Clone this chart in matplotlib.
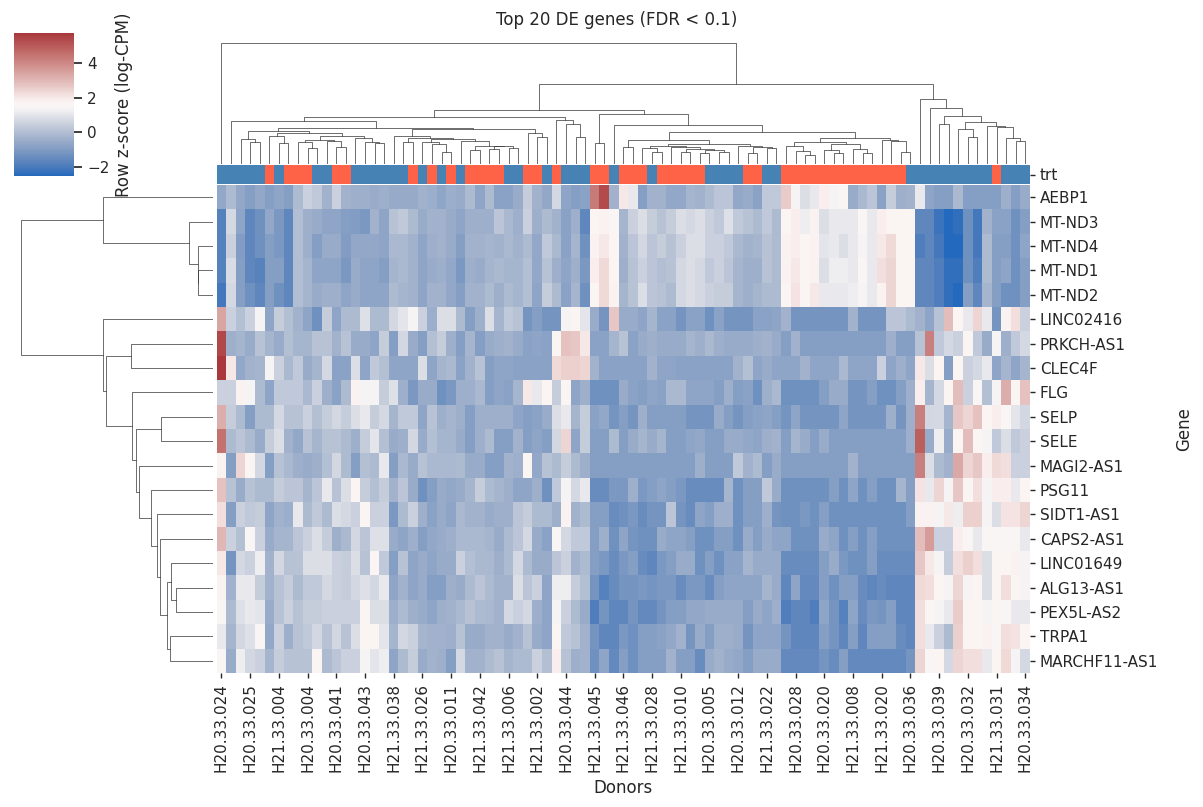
import numpy as np
import matplotlib
matplotlib.use("Agg")
import matplotlib.pyplot as plt
from matplotlib.colors import ListedColormap
import seaborn as sns

sns.set_theme(style="ticks")
plt.rcParams["font.family"] = ["DejaVu Sans"]

genes = ["AEBP1", "MT-ND3", "MT-ND4", "MT-ND1", "MT-ND2", "LINC02416",
         "PRKCH-AS1", "CLEC4F", "FLG", "SELP", "SELE", "MAGI2-AS1", "PSG11",
         "SIDT1-AS1", "CAPS2-AS1", "LINC01649", "ALG13-AS1", "PEX5L-AS2",
         "TRPA1", "MARCHF11-AS1"]

# only every third donor gets a label on the x axis
donor_labels = ["H20.33.024", "H20.33.025", "H21.33.004", "H20.33.004", "H20.33.041",
                "H20.33.043", "H21.33.038", "H21.33.026", "H20.33.011", "H21.33.042",
                "H21.33.006", "H21.33.002", "H20.33.044", "H21.33.045", "H21.33.046",
                "H21.33.028", "H21.33.010", "H20.33.005", "H20.33.012", "H21.33.022",
                "H20.33.028", "H20.33.020", "H21.33.008", "H21.33.020", "H20.33.036",
                "H20.33.039", "H20.33.032", "H21.33.031", "H20.33.034"]
label_step = 3

# treatment of each donor column (1 = treated, 0 = control)
trt = [0, 0, 0, 0, 0, 1, 0, 1, 1, 1,
       0, 0, 1, 1, 0, 0, 0, 0, 0, 0,
       1, 0, 1, 0, 1, 0, 1, 1, 1, 1,
       0, 0, 1, 1, 0, 1, 0, 0, 0, 1,
       1, 0, 1, 1, 1, 0, 1, 1, 1, 1,
       1, 0, 0, 0, 0, 1, 1, 0, 0, 1,
       1, 1, 1, 1, 1, 1, 1, 1, 1, 1,
       1, 1, 0, 0, 0, 0, 0, 0, 0, 0,
       0, 1, 0, 0, 0]
trt_colors = ["steelblue", "tomato"]

# row z-scores of log-CPM, one list per gene, donors in dendrogram order
aebp1 = [-0.6, -0.1, -0.6, -0.9, -0.6, -0.9, -0.7, -0.9, -0.1, 0.5,
         0.3, -0.3, 0.5, -0.3, -0.4, -0.4, -0.5, -0.4, -0.55, -0.55,
         -0.55, -0.3, -0.45, -0.65, -0.45, -0.5, -0.1, -0.7, -0.1, -0.8,
         -0.8, -0.5, 0.4, -0.3, -0.6, 0.7, -0.7, -0.9, -0.8, 4.3,
         5.3, -0.3, 2.0, 1.1, -0.9, -0.3, -0.3, -0.6, -0.6, -0.25,
         -0.3, -0.1, 0.2, 0.2, -0.6, -0.5, -0.8, 0.3, 0.3, 2.6,
         1.4, 0.85, 1.1, 1.9, 1.4, 1.6, -0.5, -0.15, 0.2, -0.8,
         0.4, -0.4, -0.3, 1.1, -0.7, -0.9, -0.9, -0.15, -0.9, -0.9,
         -0.9, -0.9, -0.4, -0.9, -0.5]
mt_nd3 = [-1.8, 0.7, -0.7, -1.6, -1.3, -0.6, -1.1, -1.6, 0.0, -0.4,
          -0.5, -0.7, -0.7, -0.9, -0.95, -1.1, -0.3, -0.7, 0.1, 0.3,
          -0.1, -0.5, -0.3, -0.3, -0.5, -0.7, -0.4, -0.4, -0.4, 0.2,
          -0.15, -0.4, 0.5, -0.4, -0.1, -0.3, -0.8, -0.4, -1.6, 1.7,
          1.8, 1.6, -0.25, 0.5, 0.85, 0.4, 0.1, 0.4, 0.85, 0.7,
          0.85, 0.5, 0.3, 0.9, 0.3, 0.1, -0.1, 0.3, -0.1, 1.7,
          1.9, 1.2, 1.8, 0.85, 1.1, 1.1, 1.1, 1.5, 1.1, 1.9,
          1.7, 1.7, 1.7, -1.6, -1.6, -2.2, -2.52, -2.35, -1.3, -2.1,
          -0.3, -0.8, -0.8, -1.3, -0.9]
mt_nd4 = [-1.8, 0.5, -0.95, -1.6, -1.3, -0.9, -1.1, -1.6, 0.0, -0.4,
          -0.9, -0.5, -0.5, -0.95, -0.6, -0.6, -0.6, -0.7, -0.15, -0.15,
          -0.3, -0.7, -0.4, -0.3, -0.5, -0.9, -0.3, -0.3, -0.25, -0.3,
          -0.15, -0.3, -0.1, -0.6, 0.3, -0.15, -0.8, -0.25, -1.3, 1.8,
          2.0, 1.7, -0.3, 0.2, 0.65, 0.2, 0.4, 0.1, 0.5, 0.85,
          0.85, 0.5, 0.5, 0.3, -0.15, -0.3, -0.25, 0.1, -0.1, 1.8,
          1.9, 1.7, 1.8, 1.0, 1.1, 0.85, 1.1, 1.4, 1.1, 2.0,
          2.3, 1.7, 1.7, -1.9, -1.6, -2.1, -2.5, -2.5, -1.3, -2.1,
          -0.1, -0.9, -0.9, -1.3, -0.7]
mt_nd1 = [-1.8, 0.8, -0.9, -1.6, -1.75, -0.9, -0.9, -1.6, 0.0, -0.25,
          -0.7, -0.7, -0.7, -1.1, -0.5, -0.7, -0.7, -0.9, -0.25, -0.15,
          -0.3, -0.7, -0.5, -0.4, -0.6, -1.1, -0.4, -0.5, -0.25, -0.15,
          -0.25, -0.25, 0.05, -0.6, 0.1, -0.4, -0.7, -0.4, -1.1, 1.9,
          2.3, 1.7, -0.4, 0.1, 0.5, 0.2, 0.0, 0.1, 0.7, 0.85,
          0.7, 0.3, 0.5, 0.2, -0.25, -0.4, -0.4, 0.1, -0.1, 1.8,
          2.0, 1.7, 1.8, 0.85, 1.2, 1.2, 1.1, 1.5, 1.1, 2.2,
          2.4, 1.7, 1.7, -1.6, -1.6, -1.9, -2.35, -2.35, -1.3, -1.9,
          -0.1, -0.9, -0.7, -1.3, -0.9]
mt_nd2 = [-2.1, 0.7, -0.9, -1.3, -1.6, -0.9, -1.3, -1.6, 0.0, -0.25,
          -0.5, -0.4, -0.4, -0.7, -0.5, -0.7, -0.7, -0.7, -0.1, -0.25,
          -0.3, -0.7, -0.3, -0.3, -0.6, -0.9, -0.3, -0.3, -0.1, -0.4,
          -0.1, -0.25, 0.05, -0.7, 0.4, -0.1, -0.8, -0.25, -1.3, 1.7,
          2.3, 1.8, -0.25, 0.1, 0.85, 0.2, 0.1, -0.1, 0.7, 0.85,
          0.7, 0.5, 0.4, 0.4, -0.25, -0.4, -0.25, -0.1, -0.1, 1.7,
          2.1, 1.7, 2.0, 1.1, 1.1, 1.1, 1.2, 1.4, 1.1, 1.8,
          2.4, 1.7, 1.7, -1.6, -1.6, -1.9, -2.35, -2.5, -0.9, -1.6,
          -0.25, -0.9, -1.3, -1.3, -0.9]
linc02416 = [3.4, 0.5, 0.05, 0.5, 1.4, -0.7, 0.4, 0.05, -0.3, -0.7,
             -1.3, 0.4, -0.7, -0.1, -0.1, 0.9, -0.1, -0.1, 0.65, 1.0,
             1.4, 0.5, -0.45, 0.85, 0.85, -0.1, -0.9, -0.4, 0.85, -0.25,
             0.3, 0.1, -1.2, -0.9, -1.2, -1.2, 1.4, 1.7, 1.0, -0.5,
             -1.2, 2.7, -0.5, -0.5, -0.7, -0.25, -0.8, -0.8, -1.2, -0.8,
             -0.8, -1.3, -0.8, -1.2, -1.2, -1.2, -0.8, -0.8, -0.7, -0.3,
             -1.2, -1.2, -1.2, -1.2, -1.2, -1.2, -0.3, -1.2, -1.2, -1.2,
             0.2, 0.2, -0.1, -0.3, -0.7, 0.1, 2.9, 1.7, 1.1, 2.4,
             1.1, -1.2, 1.8, 2.2, 0.5]
prkch_as1 = [5.4, -0.4, -0.25, -0.5, 0.1, -0.25, -0.5, 0.05, -0.25, -0.25,
             0.1, 0.1, -0.3, 0.1, -0.5, -0.5, -0.7, 0.4, -0.9, 0.65,
             -0.5, -0.9, 0.05, 0.4, -0.4, -0.9, -0.25, -0.9, -0.5, -0.4,
             -0.3, -0.5, -0.8, -0.7, -0.8, 1.7, 2.8, 2.7, 2.0, -0.8,
             -0.8, -0.25, 0.1, -0.8, -0.5, -0.4, -0.5, -0.5, -0.5, -0.25,
             -0.4, -0.15, -0.4, -0.5, -0.5, -0.5, -0.4, -0.3, -0.5, -0.9,
             -0.3, -0.9, -0.9, -0.9, -0.9, -0.9, -0.9, -0.9, -0.9, -0.9,
             -0.4, -0.9, -0.9, 0.1, 4.2, 0.3, 0.7, 0.5, 1.7, 0.3,
             -0.5, 1.4, -0.4, 0.3, 0.7]
clec4f = [5.74, 2.0, -0.6, -0.3, -0.25, 1.4, 0.5, -0.15, 0.3, -0.5,
          -0.25, 0.7, -0.8, -0.8, 0.85, -0.7, 0.3, 0.05, -0.7, -0.7,
          -0.7, 0.85, -0.7, -0.25, -0.15, -0.8, -0.3, 0.1, -0.9, -0.7,
          -0.7, -0.8, -0.8, -0.8, -0.8, 2.3, 2.5, 2.5, 2.4, -0.3,
          -0.8, -0.8, -0.8, -0.8, -0.8, -0.3, -0.7, -0.7, -0.8, -0.8,
          -0.8, -0.8, -0.8, -0.8, -0.3, 0.05, -0.7, -0.5, -0.7, -0.7,
          -0.7, -0.3, -0.7, -0.7, -0.7, -0.15, -0.7, -0.7, -0.7, 0.5,
          -0.7, -0.4, -0.7, 2.0, 0.85, 1.7, -0.9, 1.7, 0.5, 0.7,
          1.1, -0.7, -0.25, -0.7, -0.25]
flg = [0.5, 0.5, 1.8, 1.4, -0.1, -0.7, 0.3, 0.3, 0.3, -0.15,
       0.5, -0.4, -0.8, -0.1, 1.8, 1.4, 1.4, 0.4, 0.9, -0.4,
       -1.1, -0.5, -0.5, -1.3, -1.1, -0.4, -0.4, -0.15, -0.9, -0.7,
       -0.8, -0.25, 2.0, 1.1, 1.7, 0.4, 1.7, -0.7, -0.4, -1.3,
       -1.3, -1.3, -0.5, -0.8, -0.9, -0.7, -0.8, -0.15, -0.15, -0.7,
       -0.7, -0.7, -0.9, -0.4, -0.9, -0.8, -1.3, -0.4, -0.15, -1.3,
       -1.3, -1.3, -1.3, -0.9, -0.5, -0.5, -1.2, -1.2, -0.9, -1.3,
       -1.3, -0.9, -0.4, 1.9, -0.25, 0.7, 1.7, 2.9, 0.5, 1.5,
       0.05, 1.4, 3.2, 1.7, 2.8]
selp = [3.2, 0.4, -0.1, -0.9, -0.1, -0.1, 0.7, 0.1, 0.1, 0.5,
        0.05, 0.4, 0.65, 0.4, 0.85, 1.1, 0.4, 0.7, -0.25, 0.3,
        0.3, -0.7, 0.1, -0.4, -0.25, -0.4, -0.9, -0.4, -0.4, -0.4,
        -0.4, -0.7, -0.9, -0.8, -0.5, 0.85, 1.1, -0.25, 0.4, -0.8,
        -0.6, -1.2, -0.9, -1.2, -0.4, -0.9, -0.9, -0.9, -0.9, -1.2,
        -1.2, -1.2, -0.5, -0.9, -1.2, -0.9, -0.8, -0.7, -0.9, -1.2,
        -0.7, -1.2, -1.2, -1.2, -1.2, -0.7, -1.2, -1.2, -1.2, -1.2,
        -0.4, -1.2, -0.4, 4.2, 0.65, 0.7, -0.25, 2.7, 2.4, 2.8,
        1.7, 1.9, 1.6, 1.0, 0.65]
sele = [4.5, -0.1, 0.2, -0.1, -0.5, 0.4, 0.85, -0.3, -0.6, 0.1,
        -0.25, 0.1, 0.1, -0.1, -0.4, 0.4, 1.0, 0.05, -0.5, -0.4,
        0.65, -0.5, 0.05, -0.25, -0.25, -0.5, -0.9, -0.4, -0.1, -0.9,
        -0.9, -0.3, -0.9, -0.7, -0.9, 0.65, 2.4, -0.7, 0.4, -0.9,
        -0.9, -0.1, -0.9, -0.5, -0.25, -0.5, -0.25, -0.9, -0.9, -0.7,
        -0.6, -0.9, -0.9, -0.5, -0.5, -0.6, -0.7, -0.4, -0.3, -0.9,
        -0.25, -0.5, -0.9, -0.5, -0.9, -0.9, -0.9, -0.9, -0.9, -0.9,
        -0.9, -0.9, -0.4, 4.9, -0.5, 1.2, -0.5, 1.7, 2.9, 1.7,
        1.4, 0.3, 0.85, 0.3, 0.5]
magi2_as1 = [1.8, -0.9, 2.4, 1.7, 0.65, -0.9, 0.1, -0.15, -0.4, -0.5,
             -0.4, 0.05, 0.65, -0.1, -0.9, 0.05, -0.1, 1.1, -0.9, -0.15,
             -0.5, 0.1, -0.15, -0.15, -0.15, -0.1, -0.5, -0.5, -0.9, -0.9,
             -0.3, -0.4, 1.7, -0.6, 0.1, -0.1, 0.4, -0.1, -0.4, -0.9,
             -0.9, -0.9, -0.9, -0.9, -0.9, -0.9, -0.9, -0.9, -0.9, -0.9,
             -0.4, -0.9, -0.9, -0.9, 0.3, -0.3, -0.1, -0.9, -0.5, -0.9,
             -0.9, -0.9, -0.9, -0.9, -0.9, -0.9, -0.3, -0.9, -0.9, -0.9,
             -0.9, -0.9, -0.9, 4.2, 0.85, -0.1, -0.3, 3.3, 2.4, 2.7,
             1.9, 2.3, 2.2, 0.5, 0.5]
psg11 = [2.8, 0.1, -0.5, 0.1, -0.1, -0.1, 0.4, 0.2, 0.2, -0.25,
         0.2, 1.1, 0.1, 0.85, 1.7, 0.4, 0.05, 0.4, -0.3, 0.2,
         -0.5, -1.3, -0.9, -0.5, -0.6, -0.5, -0.25, 0.4, -0.1, -0.25,
         -0.4, -0.7, -0.7, -0.4, -1.3, 0.3, 1.4, 0.7, 1.1, -1.45,
         -1.45, -1.1, -1.1, -0.4, -1.1, -0.9, -0.7, -0.9, -1.1, -1.45,
         -1.45, -1.45, -1.45, -0.25, -1.3, -0.9, -0.9, 0.3, -0.5, -1.3,
         -1.3, -1.3, -1.3, -1.3, -0.9, -1.3, -0.7, -1.3, -0.9, -1.3,
         -1.3, -0.25, -0.9, 2.1, 1.1, 2.4, 1.4, 2.7, 1.7, 2.2,
         1.4, 1.9, 1.9, 1.1, 1.7]
sidt1_as1 = [2.2, -0.9, 0.5, 0.3, 0.4, -0.7, -0.3, -0.45, 1.1, -0.1,
             0.3, -0.1, 0.85, 0.7, 0.5, 1.7, 0.5, 0.5, -1.1, -0.1,
             0.5, -0.4, -0.8, -0.5, -0.7, -0.15, -0.3, -0.3, -0.5, -0.4,
             -0.4, 0.2, 0.4, -0.1, -0.1, -0.4, 1.8, -0.3, -0.1, -0.9,
             -0.9, -1.45, -1.3, -1.1, -1.45, -1.2, -1.2, 0.2, -1.2, -1.45,
             -0.7, -0.9, -0.4, -0.4, -1.3, -0.9, -0.9, -0.4, -1.2, -1.3,
             -1.3, -1.1, -1.3, -0.9, -1.3, -1.3, -1.3, -1.3, -1.3, -1.3,
             -1.3, -1.3, -0.9, 1.8, 1.8, 1.4, 2.0, 1.2, 2.5, 2.5,
             1.4, 0.85, 2.1, 2.1, 2.4]
caps2_as1 = [3.0, 0.5, 0.05, 1.6, 0.5, -0.5, -0.25, -0.25, 0.2, 0.5,
             0.85, 0.4, -0.4, -0.15, 0.65, 0.2, 0.9, 0.9, -0.5, -0.7,
             -0.4, -0.9, -0.6, -0.5, -0.4, -0.15, -0.15, -0.15, -0.25, -0.5,
             -0.1, 0.2, 0.7, -0.5, -0.8, 1.5, 0.7, 0.3, 0.3, -0.9,
             -0.4, -1.3, -0.7, -1.2, -1.3, -1.3, -0.5, -0.7, -0.7, -0.9,
             -1.3, -1.3, -0.9, -0.9, -1.3, -0.5, -0.9, -0.5, -0.7, -0.7,
             -1.3, -1.3, -1.3, -0.5, -0.7, -1.3, -0.9, -1.3, -0.9, -1.3,
             -1.3, -1.3, -1.3, 2.9, 3.6, 0.5, 0.5, 1.9, 1.6, 1.1,
             1.5, 1.5, 1.5, 1.5, 1.1]
linc01649 = [2.0, -1.2, 0.7, 0.5, 1.2, -0.3, 0.65, 0.1, 0.1, 0.85,
             0.85, 0.85, 0.5, 0.4, 0.85, 0.1, 1.7, 0.3, -0.9, 0.1,
             -0.7, -0.5, -0.7, -0.5, -0.5, 0.5, 0.05, -0.15, -0.15, -0.4,
             -0.1, 0.7, -0.1, -0.5, -0.5, 0.2, 0.5, -0.3, -0.1, -0.9,
             -1.1, -1.45, -1.1, -0.9, -1.45, -1.6, -1.1, -0.9, -0.5, -0.5,
             -1.3, -0.9, -1.3, -0.8, -0.8, -0.25, -0.5, -0.5, -0.5, -1.45,
             -1.45, -1.45, -1.45, -0.9, -0.5, -1.1, -1.3, -1.3, -0.9, -1.45,
             -1.45, -1.45, -1.45, 2.7, 2.0, 1.4, 0.4, 2.2, 2.5, 2.2,
             0.85, 1.7, 1.7, 1.8, 1.4]
alg13_as1 = [1.8, -0.3, 1.1, 1.1, 0.4, -0.3, 0.1, 0.4, -0.1, 0.3,
             0.3, 0.7, 0.5, 0.4, 0.65, 0.9, 0.65, 1.1, -0.7, -0.3,
             -0.7, -0.5, -0.9, -0.9, -0.4, -0.5, -0.1, 0.2, -0.1, -0.3,
             -0.3, 0.85, 0.2, 0.5, -0.7, 1.2, 1.2, 0.4, 0.05, -1.2,
             -1.8, -1.45, -1.2, -1.2, -1.1, -1.2, -1.1, -1.1, -1.45, -1.1,
             -1.1, -1.45, -0.9, -0.7, -0.7, -0.7, -0.7, -0.25, -0.5, -1.6,
             -0.7, -1.55, -1.55, -0.9, -1.3, -0.9, -0.9, -1.45, -1.6, -1.45,
             -1.6, -1.6, -1.6, 2.3, 2.2, 1.7, 1.4, 2.4, 1.4, 1.7,
             0.85, 1.7, 2.2, 1.7, 1.4]
pex5l_as2 = [1.6, -0.1, 0.9, 1.1, 1.0, -0.5, 0.1, 0.5, 0.1, 0.4,
             0.4, 0.5, 0.5, 0.5, 0.5, 1.7, 0.85, 0.85, -0.4, -0.1,
             -0.4, -0.5, -0.7, -0.4, -0.3, -0.15, 0.1, -0.1, -0.15, -0.3,
             0.7, 0.5, 0.7, -0.4, -0.7, 1.4, 0.5, -0.1, -0.5, -1.9,
             -1.2, -1.6, -1.6, -1.2, -1.55, -1.55, -1.2, -0.9, -0.9, -0.6,
             -0.6, -0.5, -0.5, -0.5, -0.5, -0.9, -0.5, -0.7, -0.4, -1.9,
             -1.6, -1.6, -1.9, -0.7, -1.2, -1.8, -0.7, -1.45, -1.1, -1.2,
             -0.9, -1.6, -1.6, 2.2, 1.7, 1.4, 1.1, 2.6, 1.7, 1.7,
             1.4, 1.7, 1.6, 1.1, 1.1]
trpa1 = [1.1, -0.25, 0.65, 0.9, 1.5, -0.6, 0.5, -0.4, 0.1, 0.3,
         0.65, 0.1, 0.65, 0.1, 0.85, 1.7, 1.7, 1.0, -0.25, 0.65,
         0.5, -0.25, -0.3, -0.3, -0.4, 0.1, -0.5, -0.5, -0.3, -0.3,
         -0.5, -0.3, 0.1, -0.5, -0.7, 1.7, 0.3, 0.1, -0.3, -1.2,
         -1.6, -1.6, -1.1, -1.3, -0.9, -0.9, -0.8, -0.6, -0.3, -1.2,
         -0.5, -0.9, -0.4, -0.4, -0.5, -1.2, -0.7, -0.7, -0.7, -1.2,
         -1.6, -1.6, -1.6, -0.9, -1.2, -1.6, -0.9, -1.6, -0.9, -0.9,
         -0.9, -1.45, -1.6, 2.2, 1.1, 0.5, -0.1, 2.5, 1.7, 1.7,
         1.8, 1.6, 2.2, 2.1, 1.7]
marchf11_as1 = [1.5, -0.5, 1.2, 0.65, 0.5, -0.25, 0.4, 0.1, 0.1, 0.1,
                1.7, -0.1, 0.2, 0.5, 0.5, 1.4, 1.0, 1.2, -0.7, -0.1,
                0.4, -0.5, -0.3, -0.4, -0.9, 0.7, -0.3, -0.3, -0.1, 0.1,
                -0.25, -0.1, -0.1, 0.5, 0.05, 1.9, 0.1, -0.4, -0.3, -1.3,
                -0.7, -1.55, -0.9, -1.3, -0.9, -0.9, -0.9, -0.3, -0.9, -0.9,
                -1.45, -0.5, -0.3, -0.5, -0.6, -0.9, -0.5, -0.5, -0.5, -1.55,
                -1.55, -1.55, -1.55, -1.2, -1.45, -0.9, -1.55, -1.55, -1.55, -1.55,
                -1.55, -1.55, -1.2, 2.4, 1.5, 1.7, 0.7, 2.4, 2.2, 2.2,
                1.1, 1.7, 2.3, 1.4, 0.7]

z = np.array([aebp1, mt_nd3, mt_nd4, mt_nd1, mt_nd2, linc02416, prkch_as1,
              clec4f, flg, selp, sele, magi2_as1, psg11, sidt1_as1, caps2_as1,
              linc01649, alg13_as1, pex5l_as2, trpa1, marchf11_as1])
n_rows, n_cols = z.shape
cbar_ticks = [-2, 0, 2, 4]

# dendrograms as nested (left, right, merge height); ints are leaf positions
row_tree = ((0, (1, (2, (3, 4, 14.3), 15.0), 23.3), 109.3),
            (5, ((6, 7, 81.3),
                 (8, ((9, 10, 51.3),
                      (11, (12, (13, (14, ((15, (16, 17, 36.7), 41.7),
                                           (18, 19, 42.3), 46.0), 52.3), 55.7), 61.3), 73.3),
                      76.3), 81.0), 106.3), 109.3),
            192.0)

col_a = ((2, (3, 4, 21.0), 24.0),
         ((5, (6, 7, 20.0), 27.0),
          (((8, (9, 10, 16.0), 21.0), (11, (12, 13, 17.0), 22.0), 23.0),
           (14, (15, (16, 17, 20.0), 21.0), 25.0), 27.0), 30.0), 32.0)
col_b = ((18, ((19, 20, 21.0),
               ((21, (22, (23, 24, 12.0), 19.0), 21.0),
                (25, ((26, 27, 14.0), ((28, 29, 15.0), (30, 31, 16.0), 17.3), 18.0), 22.0),
                24.0), 25.0), 27.0),
         (32, (33, 34, 26.0), 30.0), 34.0)
col_y1 = ((1, (col_a, col_b, 35.0), 42.0),
          (35, (36, (37, 38, 26.0), 39.0), 43.0), 46.0)
col_y2 = ((39, 40, 20.0),
          (41, (((42, 43, 16.6),
                 (((44, (45, 46, 12.0), 16.0),
                   (47, ((48, 49, 12.0), ((50, 51, 11.0), (52, 53, 12.0), 13.6), 15.0), 17.0), 18.0),
                  (54, ((55, 56, 11.0), (57, 58, 16.0), 16.6), 18.0), 19.6), 23.6),
                (((59, (60, (61, 62, 9.0), 13.0), 18.0),
                  ((63, (64, 65, 11.0), 14.0), (66, (67, 68, 11.0), 15.0), 19.0), 21.0),
                 (69, (70, (71, 72, 12.0), 22.0), 23.0), 25.0), 31.0), 38.0), 49.0)
col_z = (73, (74, ((75, 76, 39.0),
                   ((77, (78, 79, 26.0), 34.0),
                    (80, (81, (82, (83, 84, 22.0), 25.0), 36.0), 37.0), 41.0), 47.3), 55.0), 64.0)
col_tree = (0, ((col_y1, col_y2, 53.0), col_z, 79.0), 120.0)


def tree_height(node):
    return 0.0 if isinstance(node, int) else node[2]


def draw_tree(ax, node, vertical):
    # returns (leaf-axis position, height) of the node after drawing its links
    if isinstance(node, int):
        return node + 0.5, 0.0
    left, right, h = node
    pl, hl = draw_tree(ax, left, vertical)
    pr, hr = draw_tree(ax, right, vertical)
    pos = [pl, pl, pr, pr]
    hgt = [hl, h, h, hr]
    if vertical:
        ax.plot(pos, hgt, color=".2", lw=0.5)
    else:
        ax.plot(hgt, pos, color=".2", lw=0.5)
    return (pl + pr) / 2, h


W, H = 1203, 807
fig = plt.figure(figsize=(W / 100, H / 100), dpi=100)


def px_axes(left, top, right, bottom):
    return fig.add_axes([left / W, 1 - bottom / H, (right - left) / W, (bottom - top) / H])


ax_heat = px_axes(216.7, 185, 1030, 673)
ax_trt = px_axes(216.7, 164.8, 1030, 184.2)
ax_col = px_axes(216.7, 37.5, 1030, 163.5)
ax_row = px_axes(11.1, 185, 212.7, 673)
ax_cbar = px_axes(14, 33, 74, 176)

cmap = sns.color_palette("vlag", as_cmap=True)
mesh = ax_heat.pcolormesh(z, cmap=cmap, vmin=-2.52, vmax=5.74)
ax_heat.set_xlim(0, n_cols)
ax_heat.set_ylim(n_rows, 0)
ax_heat.yaxis.tick_right()
ax_heat.set_yticks(np.arange(n_rows) + 0.5)
ax_heat.set_yticklabels(genes, fontsize=11)
ax_heat.set_xticks(np.arange(0, n_cols, label_step) + 0.5)
ax_heat.set_xticklabels(donor_labels, rotation=90, fontsize=11)
ax_heat.tick_params(length=3.5, width=1)
ax_heat.set_xlabel("Donors", fontsize=12, labelpad=5)
ax_heat.set_ylabel("Gene", fontsize=12, labelpad=12)
ax_heat.yaxis.set_label_position("right")
for s in ax_heat.spines.values():
    s.set_visible(False)

ax_trt.pcolormesh([trt], cmap=ListedColormap(trt_colors), vmin=0, vmax=1)
ax_trt.set_xlim(0, n_cols)
ax_trt.set_ylim(1, 0)
ax_trt.set_xticks([])
ax_trt.yaxis.tick_right()
ax_trt.set_yticks([0.5])
ax_trt.set_yticklabels(["trt"], fontsize=11)
ax_trt.tick_params(length=3.5, width=1)
for s in ax_trt.spines.values():
    s.set_visible(False)

draw_tree(ax_col, col_tree, True)
ax_col.set_xlim(0, n_cols)
ax_col.set_ylim(0, tree_height(col_tree) * 1.05)
ax_col.set_axis_off()

draw_tree(ax_row, row_tree, False)
ax_row.set_ylim(n_rows, 0)
ax_row.set_xlim(tree_height(row_tree) * 1.05, 0)
ax_row.set_axis_off()

cb = fig.colorbar(mesh, cax=ax_cbar, ticks=cbar_ticks)
cb.outline.set_linewidth(0)
cb.ax.tick_params(labelsize=11)
cb.set_label("Row z-score (log-CPM)", fontsize=12)

fig.text(617 / W, 1 - 20 / H, "Top 20 DE genes (FDR < 0.1)", ha="center", va="center",
         fontsize=12)

fig.savefig("out.png", dpi=100)
